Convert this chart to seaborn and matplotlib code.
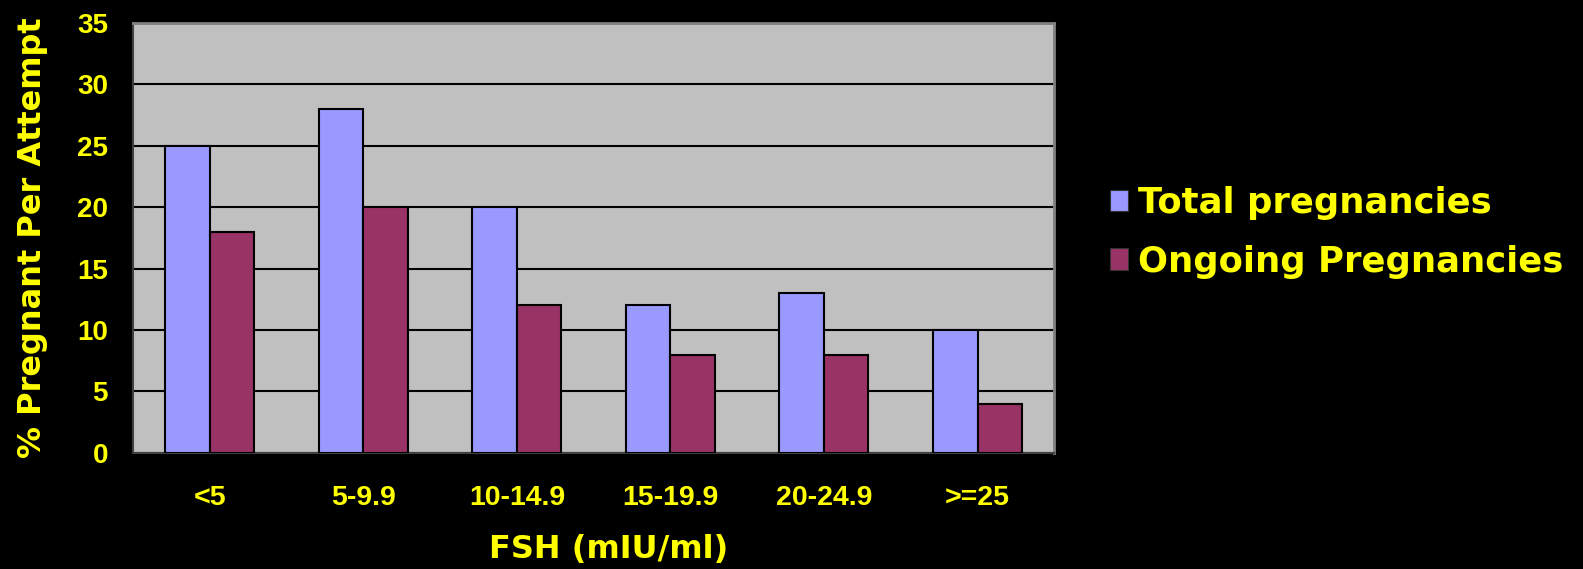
"""
FSH level vs pregnancy rate per attempt - grouped bar chart
"""

import numpy as np
import pandas as pd
import matplotlib
matplotlib.use('Agg')
import matplotlib.pyplot as plt
import seaborn as sns

# Data
fsh_groups = ['<5', '5-9.9', '10-14.9', '15-19.9', '20-24.9', '>=25']
total_pregnancies = [25, 28, 20, 12, 13, 10]
ongoing_pregnancies = [18, 20, 12, 8, 8, 4]
series_names = ['Total pregnancies', 'Ongoing Pregnancies']
y_ticks = [0, 5, 10, 15, 20, 25, 30, 35]

# Long-form table for seaborn
df = pd.DataFrame({
    'FSH': fsh_groups * 2,
    'value': total_pregnancies + ongoing_pregnancies,
    'series': [series_names[0]] * len(fsh_groups) + [series_names[1]] * len(fsh_groups),
})

sns.set_style('white')
plt.rcParams['font.family'] = ['Liberation Sans', 'DejaVu Sans']
plt.rcParams['font.weight'] = 'bold'

yellow = '#FFFF00'
wide_font = ['DejaVu Sans']  # wider glyphs stand in for the spaced-out titles
palette = {series_names[0]: '#9999FF', series_names[1]: '#993366'}

fig = plt.figure(figsize=(15.83, 5.69), dpi=100, facecolor='black')
ax = fig.add_axes([0.084, 0.204, 0.582, 0.756])
ax.set_facecolor('#C0C0C0')

sns.barplot(data=df, x='FSH', y='value', hue='series', palette=palette,
            width=0.58, edgecolor='black', linewidth=1.5, saturation=1,
            ax=ax, zorder=3)

ax.set_ylim(0, 35)
ax.set_yticks(y_ticks)
ax.yaxis.grid(True, color='black', linewidth=1.5, zorder=0)
ax.set_axisbelow(True)

ax.tick_params(axis='y', colors=yellow, labelsize=20, length=4, pad=14)
ax.tick_params(axis='x', colors=yellow, labelsize=20.5, length=0, pad=23)
for lbl in ax.get_xticklabels() + ax.get_yticklabels():
    lbl.set_fontweight('bold')
    lbl.set_color(yellow)

for side in ['top', 'right']:
    ax.spines[side].set_color('#808080')
    ax.spines[side].set_linewidth(2)
ax.spines['left'].set_color('#404040')
ax.spines['bottom'].set_color('#404040')
ax.spines['left'].set_linewidth(1.5)
ax.spines['bottom'].set_linewidth(1.5)

ax.set_xlabel('FSH (mIU/ml)', color=yellow, fontsize=23, fontweight='bold',
              family=wide_font)
ax.xaxis.set_label_coords(0.516, -0.188)
ax.set_ylabel('% Pregnant Per Attempt', color=yellow, fontsize=23, fontweight='bold',
              family=wide_font)
ax.yaxis.set_label_coords(-0.092, 0.5)

ax.legend_.remove()
handles = [plt.Rectangle((0, 0), 1, 1, facecolor=palette[s], edgecolor='#333333', linewidth=0.8)
           for s in series_names]
leg = fig.legend(handles, series_names, loc='center left',
                 bbox_to_anchor=(0.681, 0.592), frameon=False,
                 handlelength=0.5, handleheight=0.55, handletextpad=0.3,
                 labelspacing=0.7, prop={'size': 25.5, 'weight': 'bold', 'family': wide_font})
for t in leg.get_texts():
    t.set_color(yellow)

plt.savefig('out.png', dpi=100, facecolor='black')
